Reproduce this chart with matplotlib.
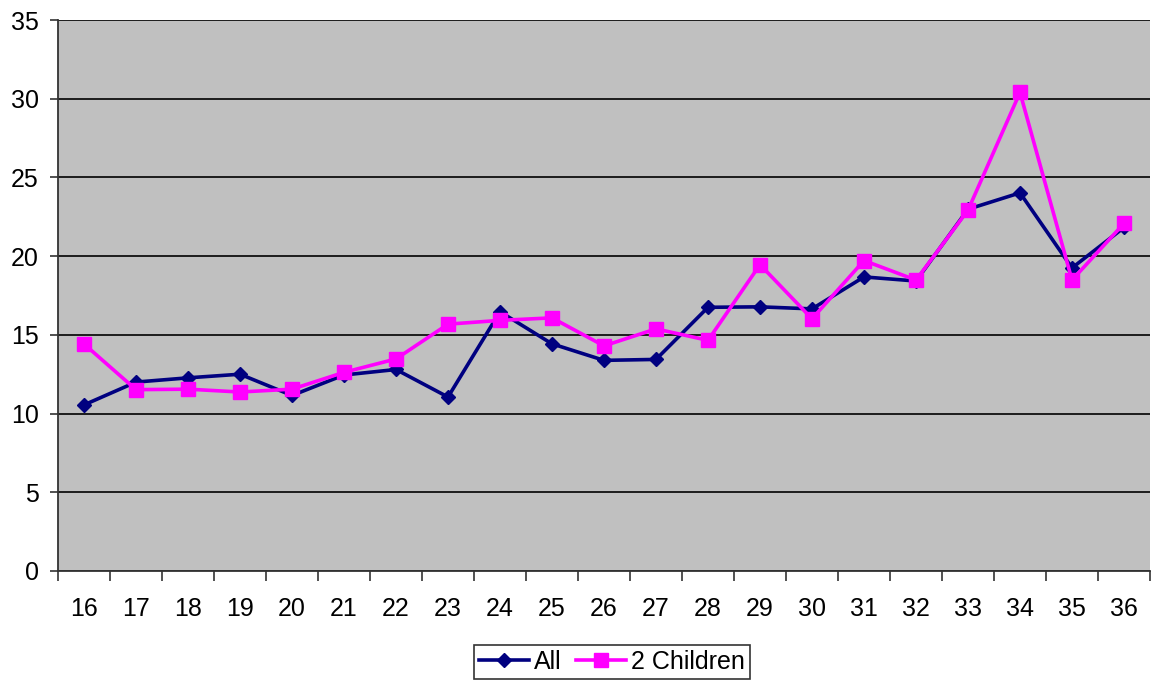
import matplotlib
matplotlib.use("Agg")
import matplotlib.pyplot as plt
import numpy as np

plt.rcParams['font.family'] = ['Liberation Sans', 'DejaVu Sans']

ages = ["16", "17", "18", "19", "20", "21", "22", "23", "24", "25", "26",
        "27", "28", "29", "30", "31", "32", "33", "34", "35", "36"]
all_values = [10.55, 12.0, 12.27, 12.5, 11.15, 12.45, 12.8, 11.05, 16.47, 14.43, 13.38,
              13.44, 16.75, 16.78, 16.65, 18.68, 18.42, 22.98, 24.02, 19.25, 21.82]
two_children = [14.42, 11.52, 11.55, 11.37, 11.55, 12.62, 13.47, 15.68, 15.92, 16.08, 14.3,
                15.38, 14.65, 19.46, 16.02, 19.72, 18.48, 22.92, 30.4, 18.48, 22.08]
series_names = ["All", "2 Children"]
y_ticks = [0, 5, 10, 15, 20, 25, 30, 35]

fig = plt.figure(figsize=(11.51, 6.82), dpi=100)
ax = fig.add_axes([58 / 1151, 1 - 571 / 682, (1150 - 58) / 1151, (571 - 20) / 682])
ax.set_facecolor("#C0C0C0")

x = np.arange(len(ages))
ax.plot(x, all_values, color="#000080", marker="D", markersize=7, linewidth=2.6,
        label=series_names[0], zorder=3)
ax.plot(x, two_children, color="#FF00FF", marker="s", markersize=10, linewidth=2.6,
        label=series_names[1], zorder=4)

ax.set_xlim(-0.5, len(ages) - 0.5)
ax.set_ylim(0, 35)
ax.set_yticks(y_ticks)
ax.set_yticklabels([str(v) for v in y_ticks])
ax.yaxis.grid(True, color="black", linewidth=1.2)
ax.set_axisbelow(True)

# category separators as tick marks, labels centred between them
ax.set_xticks(np.arange(-0.5, len(ages), 1.0))
ax.set_xticklabels([])
ax.set_xticks(x, minor=True)
ax.set_xticklabels(ages, minor=True)
ax.tick_params(axis="x", which="major", length=7, width=1.2, color="#333333", direction="out")
ax.tick_params(axis="x", which="minor", length=0, pad=19, labelsize=18)
ax.tick_params(axis="y", length=6, width=1.2, color="#333333", direction="out",
               labelsize=18, pad=8)

for side in ("top", "right"):
    ax.spines[side].set_visible(False)
for side in ("left", "bottom"):
    ax.spines[side].set_color("#333333")
    ax.spines[side].set_linewidth(1.3)

leg = fig.legend(loc="center", bbox_to_anchor=(612 / 1151, 1 - 662 / 682), ncol=2,
                 fontsize=18, frameon=True, fancybox=False, edgecolor="black",
                 handlelength=2.0, handletextpad=0.2, columnspacing=0.6,
                 borderpad=0.2, borderaxespad=0)
leg.get_frame().set_linewidth(1.2)

fig.savefig("out.png", dpi=100)
